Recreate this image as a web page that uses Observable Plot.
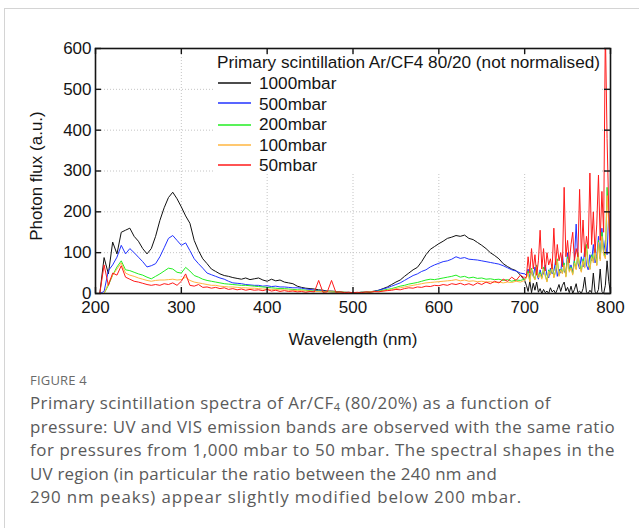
<!DOCTYPE html>
<html><head><meta charset="utf-8">
<script src="https://cdn.jsdelivr.net/npm/d3@7"></script>
<script src="https://cdn.jsdelivr.net/npm/@observablehq/plot@0.6"></script>
<style>
html,body{margin:0;padding:0;background:#fff;}
#wrap{position:relative;width:639px;height:528px;overflow:hidden;}
#card{position:absolute;left:4px;top:8px;width:700px;height:600px;border-top:1px solid #d4d4d4;border-left:1px solid #d4d4d4;}
#chart{position:absolute;left:0;top:0;}
#caption{position:absolute;left:30px;top:371px;font-family:"Open Sans",sans-serif;white-space:nowrap;}
#caption .fig{font-size:13px;line-height:18px;color:#6a6a6a;letter-spacing:0.2px;}
#caption .txt{font-size:16.9px;line-height:23.6px;color:#5a5a5a;margin-top:2px;}
#caption .ln{display:block;}
#caption .ln span{display:inline-block;}
#caption sub{font-size:11px;vertical-align:-2px;line-height:0;}
</style></head>
<body><div id="wrap"><div id="card"></div><div id="chart"></div>
<div id="caption"><div class="fig">FIGURE 4</div><div class="txt">
<div class="ln"><span data-w="521">Primary scintillation spectra of Ar/CF<sub>4</sub> (80/20%) as a function of</span></div>
<div class="ln"><span data-w="585">pressure: UV and VIS emission bands are observed with the same ratio</span></div>
<div class="ln"><span data-w="585">for pressures from 1,000 mbar to 50 mbar. The spectral shapes in the</span></div>
<div class="ln"><span data-w="467">UV region (in particular the ratio between the 240 nm and</span></div>
<div class="ln"><span data-w="492">290 nm peaks) appear slightly modified below 200 mbar.</span></div>
</div></div>
</div>
<script>
// Wavelength grid (nm): 5 nm steps to 700, 2 nm steps from 702 to 800
const wavelengths = [...d3.range(205, 701, 5), ...d3.range(702, 801, 2)];
const seriesNames = ["1000mbar", "500mbar", "200mbar", "100mbar", "50mbar"];
const seriesColors = ["#111111", "#2233ff", "#22ee22", "#ffb640", "#ff1a1a"];
const legendTitle = "Primary scintillation Ar/CF4 80/20 (not normalised)";
const xTicks = [200, 300, 400, 500, 600, 700, 800];
const yTicks = [0, 100, 200, 300, 400, 500, 600];

const flux1000 = [
  0, 88, 48, 126, 97, 150, 155, 160, 140, 128,
  110, 97, 110, 140, 179, 210, 235, 248, 232, 212,
  190, 172, 130, 105, 85, 73, 60, 54, 48, 44,
  42, 39, 37, 35, 38, 34, 36, 38, 33, 30,
  35, 31, 33, 28, 26, 24, 18, 15, 13, 12,
  11, 9, 8, 6, 6, 5, 4, 3, 3, 2,
  2, 3, 3, 4, 6, 8, 12, 16, 22, 28,
  33, 42, 50, 58, 64, 78, 95, 108, 115, 122,
  128, 135, 138, 142, 140, 143, 135, 132, 125, 118,
  110, 100, 93, 85, 73, 66, 60, 56, 45, 32,
  20, 5, 30, 2, 25, 8, 28, 3, 12, 0,
  10, 2, 6, 0, 14, 4, 8, 0, 10, 22,
  5, 20, 28, 6, 15, 2, 18, 0, 10, 24,
  2, 6, 0, 12, 40, 3, 0, 8, 2, 50,
  4, 0, 10, 60, 5, 0, 20, 80, 30, 0
];
const flux500 = [
  0, 5, 56, 70, 89, 118, 97, 110, 100, 89,
  78, 65, 68, 73, 90, 112, 135, 142, 130, 118,
  124, 105, 85, 73, 62, 50, 46, 42, 38, 35,
  30, 26, 25, 24, 22, 21, 20, 20, 18, 19,
  17, 18, 16, 16, 15, 14, 14, 13, 11, 10,
  8, 7, 6, 5, 4, 3, 3, 2, 2, 2,
  2, 3, 3, 4, 5, 8, 11, 14, 18, 22,
  26, 32, 38, 44, 48, 54, 58, 65, 70, 74,
  78, 80, 84, 90, 86, 88, 84, 83, 82, 80,
  78, 76, 74, 72, 68, 63, 58, 55, 50, 48,
  45, 60, 38, 55, 42, 65, 48, 35, 58, 40,
  50, 70, 45, 38, 62, 48, 55, 80, 42, 60,
  50, 95, 55, 48, 100, 60, 70, 52, 85, 170,
  75, 60, 90, 65, 110, 70, 58, 95, 80, 120,
  75, 90, 140, 85, 160, 100, 130, 95, 200, 120
];
const flux200 = [
  0, 0, 20, 45, 65, 80, 58, 56, 52, 48,
  45, 40, 36, 42, 48, 55, 62, 60, 52, 50,
  64, 55, 44, 40, 35, 32, 30, 28, 26, 24,
  23, 22, 21, 20, 20, 19, 18, 17, 16, 15,
  14, 13, 12, 12, 11, 10, 9, 9, 8, 7,
  6, 6, 5, 5, 4, 4, 3, 3, 2, 2,
  2, 3, 3, 4, 5, 6, 8, 10, 12, 15,
  18, 20, 23, 25, 27, 30, 33, 35, 34, 36,
  38, 40, 42, 45, 40, 42, 38, 40, 37, 38,
  35, 36, 34, 35, 32, 34, 30, 33, 32, 35,
  40, 55, 30, 62, 45, 35, 70, 40, 52, 38,
  65, 45, 30, 58, 48, 72, 40, 55, 85, 45,
  60, 50, 75, 42, 90, 55, 65, 48, 80, 60,
  100, 70, 55, 85, 65, 120, 75, 60, 95, 80,
  110, 70, 130, 85, 150, 100, 90, 260, 180, 120
];
const flux100 = [
  0, 0, 25, 45, 60, 75, 50, 45, 42, 38,
  35, 32, 30, 32, 33, 33, 34, 35, 33, 34,
  40, 32, 28, 26, 24, 22, 20, 20, 18, 17,
  16, 16, 15, 14, 14, 13, 13, 12, 11, 11,
  10, 10, 9, 9, 8, 8, 7, 7, 6, 6,
  5, 5, 4, 4, 4, 3, 3, 3, 2, 2,
  2, 3, 3, 4, 4, 5, 6, 8, 10, 12,
  14, 16, 18, 20, 22, 24, 26, 27, 28, 29,
  30, 31, 32, 34, 31, 33, 30, 31, 29, 30,
  28, 29, 27, 28, 26, 28, 27, 30, 28, 32,
  38, 50, 28, 58, 42, 33, 65, 38, 48, 35,
  60, 42, 28, 55, 45, 68, 38, 52, 80, 42,
  58, 48, 70, 40, 85, 52, 62, 45, 75, 58,
  95, 65, 52, 80, 62, 110, 70, 58, 90, 75,
  105, 68, 125, 80, 140, 95, 85, 240, 170, 110
];
const flux50 = [
  0, 70, 20, 50, 45, 68, 40, 35, 30, 28,
  25, 22, 20, 22, 20, 24, 22, 26, 20, 30,
  48, 20, 18, 22, 15, 16, 13, 15, 12, 14,
  10, 12, 9, 11, 8, 10, 8, 9, 7, 10,
  6, 8, 5, 7, 5, 6, 4, 5, 3, 5,
  4, 32, 3, 4, 32, 3, 4, 2, 3, 2,
  3, 2, 4, 3, 5, 4, 6, 7, 8, 10,
  9, 12, 14, 13, 16, 15, 18, 17, 20, 19,
  22, 20, 24, 22, 25, 21, 24, 20, 26, 22,
  28, 24, 30, 26, 35, 30, 40, 32, 45, 38,
  40, 90, 50, 110, 60, 95, 45, 80, 155, 60,
  110, 55, 100, 70, 85, 60, 160, 70, 120, 80,
  100, 65, 260, 90, 130, 75, 120, 150, 80, 110,
  90, 255, 100, 180, 90, 140, 110, 295, 120, 200,
  100, 170, 290, 130, 250, 150, 650, 380, 200, 90
];

const allFlux = [flux1000, flux500, flux200, flux100, flux50];
const rows = [];
seriesNames.forEach((s, i) => {
  rows.push({w: 200, v: 0, s});
  allFlux[i].forEach((v, j) => rows.push({w: wavelengths[j], v, s}));
});

const font = "'Liberation Sans', Arial, Helvetica, sans-serif";
const frameH = 360 - 48 - 67, frameW = 639 - 95 - 29, tk = 6;
const ink = "#151515";

const plot = Plot.plot({
  width: 639, height: 360,
  marginLeft: 95, marginRight: 29, marginTop: 48, marginBottom: 67,
  x: {domain: [200, 800]},
  y: {domain: [0, 600]},
  color: {domain: seriesNames, range: seriesColors},
  style: {fontFamily: font, fontSize: "17px", color: ink, background: "transparent"},
  marks: [
    Plot.gridX(xTicks.slice(1, -1), {stroke: "#c4c4c4", strokeOpacity: 1, strokeDasharray: "1,2"}),
    Plot.gridY(yTicks.slice(1, -1), {stroke: "#c4c4c4", strokeOpacity: 1, strokeDasharray: "1,2"}),
    Plot.line(rows, {x: "w", y: "v", z: "s", stroke: "s", strokeWidth: 1, clip: true}),
    Plot.frame({stroke: ink, strokeWidth: 1.6}),
    Plot.tickX(xTicks, {x: d => d, insetTop: frameH - tk, stroke: ink, strokeWidth: 1.4}),
    Plot.tickX(xTicks, {x: d => d, insetBottom: frameH - tk, stroke: ink, strokeWidth: 1.4}),
    Plot.tickY(yTicks, {y: d => d, insetRight: frameW - tk, stroke: ink, strokeWidth: 1.4}),
    Plot.tickY(yTicks, {y: d => d, insetLeft: frameW - tk, stroke: ink, strokeWidth: 1.4}),
    Plot.axisX(xTicks, {tickSize: 0, tickPadding: 7, fontSize: 17, fill: ink, label: null}),
    Plot.axisY(yTicks, {tickSize: 0, tickPadding: 4, fontSize: 17, fill: ink, label: null}),
    Plot.text(["Wavelength (nm)"], {frameAnchor: "bottom", dy: 51, fontSize: 17, fill: ink, lineAnchor: "bottom"}),
    Plot.text(["Photon flux (a.u.)"], {frameAnchor: "left", textAnchor: "middle", rotate: -90, dx: -59, dy: 5, fontSize: 17, fill: ink})
  ]
});

// Legend (inside plot, white box)
const svg = d3.select(plot);
const lg = svg.append("g").attr("font-family", font).attr("font-size", 17.2)
  .attr("fill", ink).attr("text-anchor", "start");
lg.append("rect").attr("x", 213).attr("y", 55).attr("width", 388).attr("height", 117).attr("fill", "white");
lg.append("text").attr("x", 217).attr("y", 68).text(legendTitle);
seriesNames.forEach((s, i) => {
  const yc = 83 + i * 20.5;
  const yl = 2 * Math.round((yc - 1) / 2) + 1; // odd row for a crisp line
  lg.append("line").attr("x1", 218).attr("x2", 251).attr("y1", yl).attr("y2", yl)
    .attr("stroke", seriesColors[i]).attr("stroke-width", 1.5);
  lg.append("text").attr("x", 259).attr("y", yc + 6).text(s);
});

document.getElementById("chart").appendChild(plot);

// Fit caption lines to the reference line widths by letter spacing
document.querySelectorAll("#caption .ln span").forEach(el => {
  const target = +el.dataset.w;
  const natural = el.getBoundingClientRect().width;
  const n = el.textContent.length;
  el.style.letterSpacing = ((target - natural) / n).toFixed(3) + "px";
});
</script>
</body></html>
